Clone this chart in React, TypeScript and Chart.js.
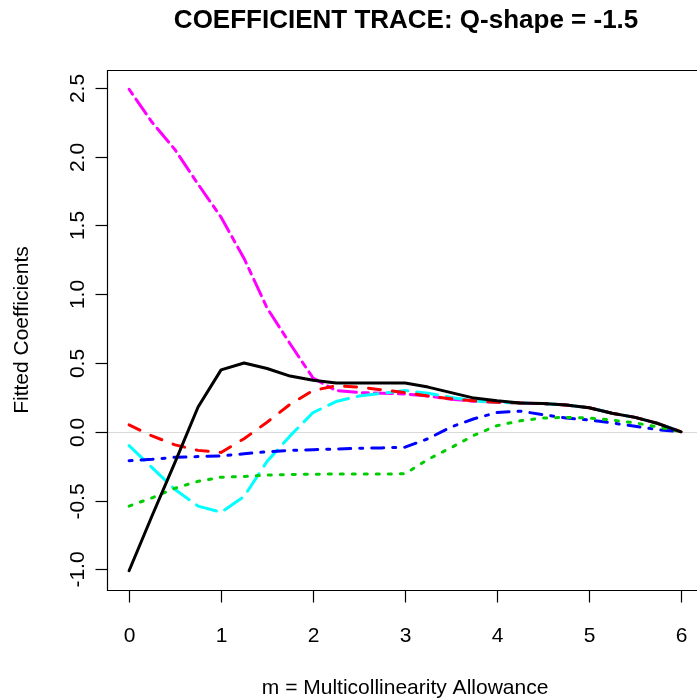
import React, { useEffect, useRef } from "react";
import { Chart, registerables } from "chart.js";

Chart.register(...registerables);

// m grid (Multicollinearity Allowance)
const mValues = [
  0, 0.25, 0.5, 0.75, 1, 1.25, 1.5, 1.75, 2, 2.25, 2.5, 2.75, 3,
  3.25, 3.5, 3.75, 4, 4.25, 4.5, 4.75, 5, 5.25, 5.5, 5.75, 6,
];

// Fitted coefficient traces
const coefBlack = [
  -1.01, -0.61, -0.22, 0.18, 0.45, 0.5, 0.46, 0.405, 0.375, 0.355, 0.355, 0.355, 0.355,
  0.325, 0.285, 0.245, 0.225, 0.21, 0.205, 0.195, 0.175, 0.135, 0.105, 0.06, 0.0,
];
const coefRed = [
  0.05, -0.03, -0.095, -0.135, -0.15, -0.05, 0.07, 0.2, 0.3, 0.335, 0.325, 0.305, 0.285,
  0.26, 0.24, 0.225, 0.215, 0.21, 0.205, 0.195, 0.175, 0.135, 0.105, 0.06, 0.0,
];
const coefGreen = [
  -0.54, -0.48, -0.41, -0.36, -0.33, -0.325, -0.315, -0.31, -0.308, -0.307, -0.307, -0.307, -0.305,
  -0.2, -0.115, -0.025, 0.045, 0.08, 0.1, 0.105, 0.1, 0.085, 0.065, 0.035, 0.0,
];
const coefBlue = [
  -0.21, -0.2, -0.185, -0.18, -0.175, -0.16, -0.145, -0.135, -0.13, -0.125, -0.12, -0.117, -0.112,
  -0.05, 0.035, 0.095, 0.14, 0.15, 0.125, 0.1, 0.085, 0.065, 0.04, 0.015, 0.0,
];
const coefCyan = [
  -0.1, -0.26, -0.42, -0.54, -0.585, -0.47, -0.215, -0.03, 0.14, 0.22, 0.26, 0.28, 0.3,
  0.28, 0.25, 0.225, 0.215, 0.21, 0.205, 0.195, 0.175, 0.135, 0.105, 0.06, 0.0,
];
const coefMagenta = [
  2.49, 2.25, 2.05, 1.8, 1.56, 1.26, 0.9, 0.64, 0.39, 0.3, 0.285, 0.28, 0.275,
  0.26, 0.237, 0.222, 0.215, 0.21, 0.205, 0.195, 0.175, 0.135, 0.105, 0.06, 0.0,
];

const xTicks = [0, 1, 2, 3, 4, 5, 6];
const yTicks = [-1, -0.5, 0, 0.5, 1, 1.5, 2, 2.5];
const yTickLabels = ["-1.0", "-0.5", "0.0", "0.5", "1.0", "1.5", "2.0", "2.5"];

const titleText = "COEFFICIENT TRACE: Q-shape = -1.5";
const xLabel = "m = Multicollinearity Allowance";
const yLabel = "Fitted Coefficients";

const FONT = "'Liberation Sans', Arial, Helvetica, sans-serif";
const LW = 3;

const seriesDefs = [
  { data: coefBlack, color: "#000000", dash: [] as number[] },
  { data: coefRed, color: "#FF0000", dash: [4, 4] },
  { data: coefGreen, color: "#00CD00", dash: [1, 3] },
  { data: coefBlue, color: "#0000FF", dash: [1, 3, 4, 3] },
  { data: coefCyan, color: "#00FFFF", dash: [7, 3] },
  { data: coefMagenta, color: "#FF00FF", dash: [2, 2, 6, 2] },
];

const rPlotPlugin = {
  id: "rPlot",
  beforeDatasetsDraw(chart: any) {
    const { ctx, chartArea: a, scales } = chart;
    const y0 = Math.round(scales.y.getPixelForValue(0)) + 0.5;
    ctx.save();
    ctx.strokeStyle = "#D9D9D9";
    ctx.lineWidth = 1;
    ctx.beginPath();
    ctx.moveTo(a.left, y0);
    ctx.lineTo(a.right, y0);
    ctx.stroke();
    ctx.restore();
  },
  afterDraw(chart: any) {
    const { ctx, chartArea: a, scales, width } = chart;
    const xs = scales.x;
    const ys = scales.y;
    ctx.save();
    ctx.strokeStyle = "#000000";
    ctx.fillStyle = "#000000";
    ctx.lineWidth = 1.2;
    const L = a.left + 0.5;
    const T = a.top + 0.5;
    const B = a.bottom + 0.5;
    // box (right side lies outside the window)
    ctx.beginPath();
    ctx.moveTo(width + 5, T);
    ctx.lineTo(L, T);
    ctx.lineTo(L, B);
    ctx.lineTo(width + 5, B);
    ctx.stroke();

    // x ticks
    ctx.font = `21px ${FONT}`;
    ctx.textAlign = "center";
    ctx.textBaseline = "alphabetic";
    xTicks.forEach((v) => {
      const px = Math.round(xs.getPixelForValue(v)) + 0.5;
      ctx.beginPath();
      ctx.moveTo(px, B);
      ctx.lineTo(px, B + 12);
      ctx.stroke();
      ctx.fillText(String(v), px, B + 51);
    });

    // y ticks
    yTicks.forEach((v, i) => {
      const py = Math.round(ys.getPixelForValue(v)) + 0.5;
      ctx.beginPath();
      ctx.moveTo(L - 12, py);
      ctx.lineTo(L, py);
      ctx.stroke();
      ctx.save();
      ctx.translate(L - 24, py);
      ctx.rotate(-Math.PI / 2);
      ctx.fillText(yTickLabels[i], 0, 0);
      ctx.restore();
    });

    const cx = xs.getPixelForValue(3);
    // axis titles
    ctx.fillText(xLabel, cx, 694);
    ctx.save();
    ctx.translate(28, (a.top + a.bottom) / 2);
    ctx.rotate(-Math.PI / 2);
    ctx.fillText(yLabel, 0, 0);
    ctx.restore();

    // main title
    ctx.font = `bold 26px ${FONT}`;
    ctx.fillText(titleText, cx + 1, 28);
    ctx.restore();
  },
};

export default function App() {
  const canvasRef = useRef<HTMLCanvasElement | null>(null);

  useEffect(() => {
    const canvas = canvasRef.current;
    if (!canvas) return;
    const chart = new Chart(canvas, {
      type: "line",
      data: {
        datasets: seriesDefs.map((s) => ({
          data: mValues.map((m, i) => ({ x: m, y: s.data[i] })),
          borderColor: s.color,
          backgroundColor: s.color,
          borderWidth: LW,
          borderDash: s.dash.map((d) => d * LW),
          borderCapStyle: "round" as const,
          borderJoinStyle: "round" as const,
          pointRadius: 0,
          tension: 0,
          fill: false,
        })),
      },
      options: {
        responsive: false,
        maintainAspectRatio: false,
        animation: false,
        devicePixelRatio: 1,
        layout: { padding: { left: 107, top: 70, right: 0, bottom: 108 } },
        plugins: {
          legend: { display: false },
          tooltip: { enabled: false },
          title: { display: false },
        },
        scales: {
          x: { type: "linear", min: -0.24, max: 6.173, display: false },
          y: { type: "linear", min: -1.15, max: 2.63, display: false },
        },
      },
      plugins: [rPlotPlugin],
    });
    return () => chart.destroy();
  }, []);

  return (
    <div style={{ position: "fixed", left: 0, top: 0, width: 697, height: 698, background: "#fff" }}>
      <canvas ref={canvasRef} width={697} height={698} style={{ display: "block" }} />
    </div>
  );
}
